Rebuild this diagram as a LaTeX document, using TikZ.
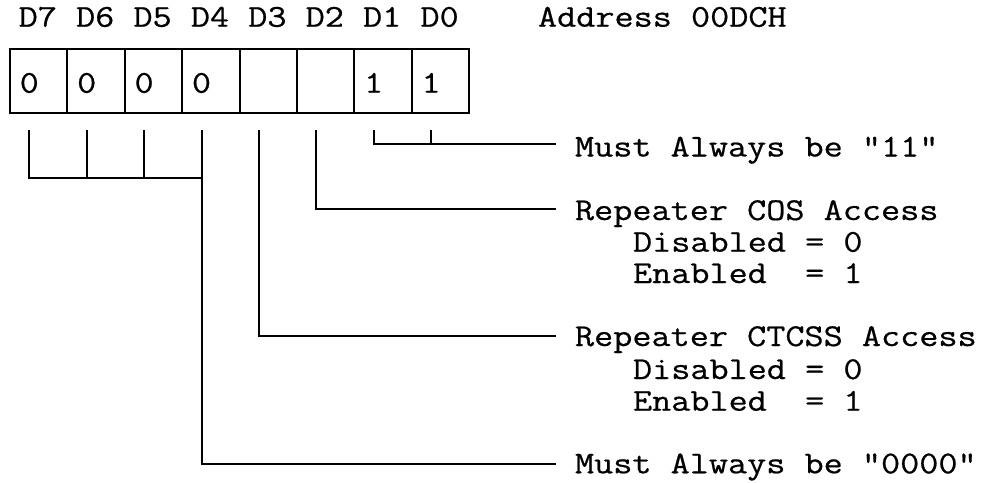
\documentclass[tikz,border=0pt]{standalone}
\usepackage{fontspec}
\setmonofont[FakeStretch=1.168,FakeBold=0.6]{Latin Modern Mono}
\begin{document}
\begin{tikzpicture}[x=1pt,y=-1pt,line width=2pt,
  txt/.style={font=\ttfamily\fontsize{31.8}{32}\selectfont,inner sep=0pt,anchor=base west},
  hdr/.style={font=\ttfamily\fontsize{31.8}{32}\selectfont,inner sep=0pt,anchor=base},
  cell/.style={draw,line width=2pt,minimum width=57.4pt,minimum height=64pt,inner sep=0pt,outer sep=0pt,anchor=north west},
  wire/.style={line width=2pt,line join=miter}]
\useasboundingbox (0,0) rectangle (982,482);
% register cells
\foreach \i in {0,...,7}{
  \node[cell] (c\i) at ({10+57.4*(7-\i)},49.3) {};
  \node[hdr] (h\i) at ({37.8+57.4*(7-\i)},26.7) {D\i};
  \coordinate (t\i) at ({29.3+57.4*(7-\i)},130);
}
% bit values
\node[hdr] (v7) at (29.3,92.7) {0};
\node[hdr] (v6) at (86.7,92.7) {0};
\node[hdr] (v5) at (144.1,92.7) {0};
\node[hdr] (v4) at (201.5,92.7) {0};
\node[hdr] (v1) at (373.7,92.7) {1};
\node[hdr] (v0) at (431.1,92.7) {1};
\node[txt] (addr) at (537,26.7) {Address 00DCH};
% labels
\node[txt] (l11) at (574,156.5) {Must Always be "11"};
\node[txt] (lcos) at (574,220) {Repeater COS Access};
\node[txt] (lcosd) at (632,251.7) {Disabled = 0};
\node[txt] (lcose) at (632,283) {Enabled\ \ = 1};
\node[txt] (lct) at (574,346) {Repeater CTCSS Access};
\node[txt] (lctd) at (632,379) {Disabled = 0};
\node[txt] (lcte) at (632,410.7) {Enabled\ \ = 1};
\node[txt] (l0000) at (574,473.3) {Must Always be "0000"};
% line ends
\coordinate (e11) at (556,144.3);
\coordinate (ecos) at (556,209.3);
\coordinate (ect) at (556,336);
\coordinate (e0000) at (556,464.3);
\coordinate (j4) at (201.5,177.7);
% connectors
\draw[wire] (t7) |- (j4);
\draw[wire] (t6) -- (t6 |- j4);
\draw[wire] (t5) -- (t5 |- j4);
\draw[wire] (t4) |- (e0000);
\draw[wire] (t3) |- (ect);
\draw[wire] (t2) |- (ecos);
\draw[wire] (t1) |- (e11);
\draw[wire] (t0) -- (t0 |- e11);
\end{tikzpicture}
\end{document}
